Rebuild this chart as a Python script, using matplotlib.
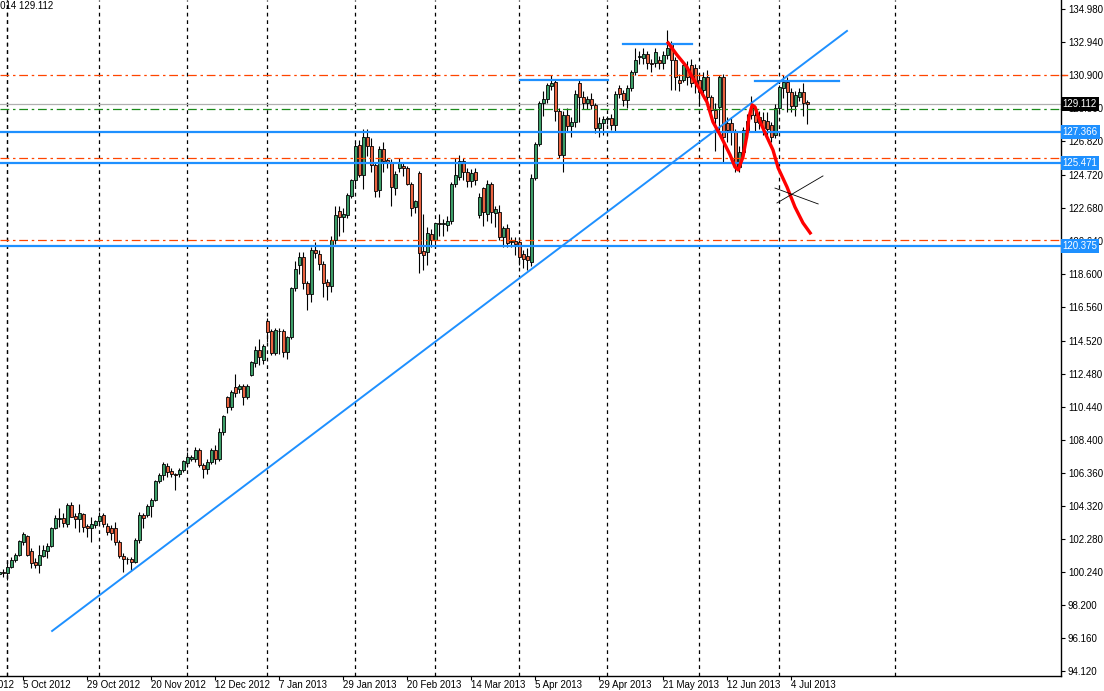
import numpy as np
import pandas as pd
import matplotlib
matplotlib.use("Agg")
import matplotlib.pyplot as plt

plt.rcParams["font.family"] = ["Liberation Sans", "DejaVu Sans"]

# daily candles, first entry is 27 Sep 2012, last is 10 Jul 2013
opens = [
    100.10, 100.22, 100.15, 100.52, 100.97, 101.28, 102.10, 102.45, 101.55, 100.87,
    100.66, 101.24, 101.55, 101.86, 102.93, 103.52, 103.58, 103.17, 104.37, 103.71,
    103.48, 103.81, 103.09, 102.93, 103.13, 103.36, 103.75, 103.07, 102.97, 102.93,
    102.10, 101.24, 101.01, 101.03, 100.83, 102.21, 103.75, 103.75, 104.30, 104.68,
    105.85, 106.22, 106.77, 106.46, 106.28, 106.26, 106.53, 106.94, 107.21, 107.21,
    107.76, 106.84, 106.57, 107.05, 107.75, 107.20, 108.90, 111.05, 110.40, 111.67,
    111.55, 111.71, 111.05, 112.39, 113.15, 113.93, 113.32, 115.70, 115.13, 113.73,
    115.13, 115.11, 113.79, 114.72, 117.74, 119.18, 119.70, 118.09, 117.37, 120.11,
    119.86, 119.24, 118.15, 117.91, 120.73, 122.54, 122.12, 122.27, 123.46, 124.43,
    126.59, 124.74, 127.10, 126.53, 125.35, 123.81, 126.32, 125.66, 125.56, 123.96,
    125.14, 125.31, 125.15, 124.18, 122.78, 124.84, 120.07, 120.00, 121.09, 120.73,
    121.75, 121.72, 121.65, 121.90, 124.18, 124.60, 125.60, 124.94, 124.39, 124.94,
    122.27, 123.91, 122.33, 124.18, 122.41, 122.47, 120.88, 121.45, 120.62, 120.66,
    120.62, 119.85, 119.74, 119.39, 124.53, 126.65, 129.16, 129.41, 130.23, 130.50,
    128.71, 125.97, 128.44, 127.76, 128.03, 130.44, 129.53, 129.16, 129.41, 129.06,
    127.62, 127.93, 128.17, 128.24, 127.82, 130.13, 129.82, 129.37, 130.13, 131.12,
    132.00, 131.98, 132.19, 131.63, 131.63, 131.84, 131.63, 132.15, 132.87, 131.84,
    130.60, 130.60, 131.29, 131.53, 131.32, 130.60, 129.98, 130.81, 129.57, 128.75,
    128.96, 130.81, 127.93, 127.93, 127.41, 125.25, 126.18, 127.51, 128.96, 128.44,
    127.93, 128.13, 128.10, 127.80, 127.20, 128.85, 130.10, 130.50, 129.88, 129.00,
    129.57, 129.88, 129.25,
]
highs = [
    100.35, 100.40, 100.87, 101.18, 101.38, 102.21, 102.72, 102.52, 101.69, 101.08,
    101.90, 101.90, 102.00, 103.03, 103.75, 104.16, 103.85, 104.47, 104.57, 103.85,
    104.43, 103.89, 103.19, 103.65, 103.44, 103.95, 103.85, 103.23, 103.13, 103.34,
    102.21, 101.38, 101.18, 101.14, 102.31, 103.95, 103.85, 104.43, 104.78, 105.91,
    106.32, 107.04, 106.94, 106.63, 106.32, 106.63, 107.15, 107.66, 107.46, 107.97,
    107.87, 106.94, 107.20, 107.90, 108.10, 109.10, 109.95, 111.12, 111.45, 112.45,
    111.85, 111.85, 111.85, 113.24, 114.20, 114.60, 114.30, 115.90, 115.25, 115.30,
    115.30, 115.20, 114.80, 117.80, 119.40, 120.00, 120.00, 118.20, 120.30, 120.60,
    120.10, 119.40, 118.30, 121.00, 122.80, 122.80, 122.70, 123.60, 124.50, 126.70,
    126.90, 127.60, 127.60, 127.00, 125.50, 126.50, 126.80, 125.80, 125.70, 125.00,
    125.80, 125.50, 125.30, 124.30, 123.20, 125.00, 122.30, 121.50, 121.40, 121.80,
    122.30, 122.00, 122.20, 124.30, 125.77, 126.00, 125.80, 125.20, 125.10, 125.20,
    123.60, 124.00, 124.40, 124.30, 122.80, 122.90, 121.60, 121.70, 120.90, 120.90,
    120.90, 120.10, 120.20, 124.80, 126.80, 129.30, 129.90, 130.40, 130.90, 130.60,
    128.90, 128.70, 128.90, 128.30, 130.00, 130.60, 129.90, 129.60, 129.80, 129.20,
    128.30, 128.40, 128.40, 128.50, 129.90, 130.30, 130.00, 130.30, 131.20, 132.60,
    132.40, 132.60, 132.40, 131.90, 132.60, 132.10, 132.40, 133.70, 133.00, 132.00,
    131.00, 131.70, 131.80, 131.90, 131.60, 131.00, 131.10, 131.20, 129.70, 129.20,
    130.90, 131.00, 128.30, 128.30, 127.60, 126.50, 127.70, 128.50, 129.60, 128.80,
    128.70, 128.60, 128.60, 128.00, 129.10, 130.30, 130.90, 130.80, 130.10, 129.90,
    130.10, 130.40, 129.35,
]
lows = [
    99.95, 99.90, 99.74, 100.45, 100.87, 101.24, 101.90, 101.24, 100.46, 100.46,
    100.15, 101.18, 101.08, 101.79, 102.87, 103.03, 103.03, 103.03, 103.61, 102.93,
    102.72, 102.72, 102.41, 102.10, 102.93, 103.23, 103.03, 102.52, 102.21, 101.90,
    101.08, 100.25, 100.73, 100.31, 100.77, 102.00, 102.93, 103.65, 103.65, 104.63,
    105.70, 105.91, 106.12, 106.12, 105.29, 106.12, 106.42, 106.69, 107.10, 107.04,
    106.73, 106.01, 106.30, 106.90, 106.90, 107.10, 108.70, 110.05, 110.20, 111.02,
    111.30, 110.56, 110.90, 112.35, 112.90, 113.00, 113.10, 114.40, 113.60, 113.60,
    113.70, 113.50, 113.40, 114.60, 117.60, 118.60, 117.70, 116.40, 116.90, 119.60,
    118.90, 117.20, 117.00, 117.50, 120.50, 121.00, 121.20, 122.10, 123.30, 124.10,
    124.60, 123.90, 125.90, 124.90, 123.40, 123.40, 124.90, 125.20, 122.80, 123.50,
    124.90, 124.70, 124.10, 122.20, 122.40, 118.70, 118.90, 119.20, 120.30, 120.20,
    121.00, 121.00, 121.30, 121.70, 124.00, 124.40, 124.40, 124.00, 124.00, 124.10,
    122.10, 121.60, 121.90, 121.80, 121.50, 120.70, 120.30, 120.30, 120.30, 119.80,
    119.20, 119.00, 118.90, 119.10, 124.40, 126.50, 128.40, 129.20, 130.00, 128.10,
    125.80, 124.90, 127.40, 127.10, 127.70, 128.00, 128.80, 128.80, 128.80, 127.30,
    127.10, 127.20, 127.90, 127.50, 127.40, 129.50, 129.00, 128.90, 129.90, 130.90,
    131.60, 131.60, 131.30, 131.10, 131.40, 131.30, 131.30, 131.90, 130.00, 130.00,
    129.90, 130.50, 130.30, 130.20, 129.80, 129.00, 129.70, 129.00, 128.30, 126.20,
    127.50, 125.50, 126.80, 126.60, 124.90, 124.90, 126.00, 127.00, 128.20, 127.40,
    127.60, 127.20, 127.10, 126.80, 127.00, 128.50, 129.50, 128.60, 128.60, 128.40,
    129.30, 128.40, 127.90,
]
closes = [
    100.20, 100.18, 100.56, 100.97, 101.28, 102.14, 102.58, 101.28, 100.81, 100.66,
    101.28, 101.59, 101.86, 102.97, 103.58, 103.58, 103.23, 104.37, 103.65, 103.48,
    103.89, 102.99, 102.93, 103.19, 103.36, 103.69, 103.17, 102.68, 102.66, 102.10,
    101.24, 101.03, 101.03, 100.83, 102.21, 103.75, 103.54, 104.30, 104.68, 105.85,
    106.22, 106.90, 106.42, 106.28, 106.24, 106.53, 107.08, 107.31, 107.35, 107.76,
    106.84, 106.57, 107.05, 107.75, 107.20, 108.90, 109.86, 110.40, 111.36, 111.30,
    111.71, 111.01, 111.71, 113.17, 113.93, 113.48, 114.18, 115.07, 113.73, 115.17,
    115.08, 113.79, 114.72, 117.74, 118.92, 119.70, 118.05, 117.37, 120.11, 119.90,
    119.24, 118.09, 117.91, 120.73, 122.27, 122.12, 122.33, 123.50, 124.43, 126.53,
    124.74, 127.10, 126.53, 125.35, 123.75, 126.32, 125.62, 125.50, 123.98, 124.80,
    125.55, 125.15, 124.16, 122.68, 123.13, 119.90, 119.80, 121.14, 120.73, 121.75,
    121.70, 121.75, 121.90, 124.18, 124.74, 125.60, 124.94, 124.39, 124.88, 124.43,
    123.40, 122.47, 124.18, 122.43, 122.62, 120.93, 121.45, 120.52, 120.66, 120.48,
    119.70, 119.55, 119.49, 124.53, 126.65, 129.16, 129.41, 130.29, 130.44, 128.71,
    125.97, 128.44, 127.76, 128.03, 129.74, 129.53, 129.16, 129.41, 129.06, 127.62,
    127.93, 128.17, 128.23, 127.82, 129.72, 129.74, 129.37, 130.13, 131.12, 131.84,
    132.07, 132.19, 131.63, 131.57, 132.35, 131.63, 132.15, 132.56, 131.84, 130.81,
    130.40, 131.53, 130.81, 130.40, 130.50, 129.88, 130.81, 129.57, 128.75, 128.24,
    130.81, 127.10, 127.51, 127.41, 125.25, 126.18, 127.51, 128.07, 128.44, 128.03,
    128.34, 127.62, 127.60, 127.10, 128.85, 130.15, 130.50, 129.88, 129.00, 129.67,
    129.88, 129.16, 129.112,
]

# price axis labels (as printed by the terminal)
price_ticks = [94.12, 96.16, 98.20, 100.24, 102.28, 104.32, 106.36, 108.40, 110.44,
               112.48, 114.52, 116.56, 118.60, 120.64, 122.68, 124.72, 126.82, 128.86,
               130.90, 132.94, 134.98]

# horizontal levels
support_levels = [127.366, 125.471, 120.375]
orange_levels = [130.88, 125.78, 120.70]
green_level = 128.80
last_price = 129.112

# hand-drawn objects, (bar index, price)
trend_start = (11.2, 96.59)
trend_end = (209.9, 133.63)
tops = [((128.2, 130.60), (150.2, 130.60)),
        ((153.9, 132.82), (171.2, 132.82)),
        ((186.9, 130.56), (207.9, 130.56))]
red_x = [165.2, 167.4, 169.9, 171.2, 173.2, 174.9, 176.4, 178.2, 180.7, 181.9, 182.7,
         183.9, 184.9, 185.4, 186.2, 186.9, 188.2, 189.9, 191.4, 192.7, 194.9, 196.9,
         198.9, 200.7]
red_y = [132.89, 132.15, 131.40, 130.79, 129.98, 129.24, 128.01, 127.21, 125.97, 125.23,
         125.05, 125.85, 127.21, 128.32, 129.06, 128.94, 128.01, 127.08, 126.28, 125.17,
         124.00, 122.76, 121.78, 121.16]
cross_a = ((191.9, 123.93), (202.7, 122.95))
cross_b = ((192.4, 123.01), (203.9, 124.68))
future_separators = [222]

# build the trading calendar (terminal skips 25 Dec and 1 Jan)
dates = pd.bdate_range("2012-09-27", "2013-07-10")
dates = dates[~dates.isin(pd.to_datetime(["2012-12-25", "2013-01-01"]))]
xs = np.arange(len(dates)) - 2

fig = plt.figure(figsize=(11.04, 6.91), dpi=100)
ax = fig.add_axes([0, 15 / 691, 1061 / 1104, 676 / 691])
ax.set_xlim(-1.825, 263.4)
ax.set_ylim(93.81, 135.54)

# month separators
month_starts = [x for i, x in enumerate(xs) if i > 0 and dates[i].month != dates[i - 1].month]
month_starts = [xs[2]] + month_starts + future_separators
for x in month_starts:
    ax.axvline(x, color="black", lw=0.9, ls=(0, (3, 3)), zorder=1)

# candles
for x, o, h, l, c in zip(xs, opens, highs, lows, closes):
    ax.vlines(x, l, h, color="black", lw=0.8, zorder=3)
    col = "#3c9e68" if c >= o else "#ea6340"
    ax.bar(x, max(abs(c - o), 0.02), bottom=min(o, c), width=0.62, color=col,
           edgecolor="black", linewidth=0.6, zorder=3.5)

# levels
ax.axhline(last_price, color="#b0b0b0", lw=0.9, zorder=2)
ax.axhline(green_level, color="#1a8a1a", lw=0.9, ls=(0, (7, 3, 2, 3)), zorder=4)
for lvl in orange_levels:
    ax.axhline(lvl, color="#ff4500", lw=0.9, ls=(0, (7, 3, 2, 3)), zorder=4)
for lvl in support_levels:
    ax.axhline(lvl, color="#1e90ff", lw=1.6, zorder=4)

# trend line and tops
ax.plot([trend_start[0], trend_end[0]], [trend_start[1], trend_end[1]],
        color="#1e90ff", lw=1.4, zorder=5)
for (a, b) in tops:
    ax.plot([a[0], b[0]], [a[1], b[1]], color="#1e90ff", lw=1.6, zorder=5)
ax.plot(red_x, red_y, color="red", lw=2.4, solid_joinstyle="round", zorder=6)
for seg in (cross_a, cross_b):
    ax.plot([seg[0][0], seg[1][0]], [seg[0][1], seg[1][1]], color="black", lw=0.6, zorder=6)

# axes look
for side in ("left", "top"):
    ax.spines[side].set_visible(False)
ax.spines["right"].set_linewidth(1.0)
ax.spines["bottom"].set_linewidth(1.0)
ax.yaxis.tick_right()
ax.set_yticks(price_ticks)
ax.set_yticklabels([f"{t:.3f}" for t in price_ticks])
ax.tick_params(axis="y", direction="out", length=3, width=0.8, labelsize=7, pad=2)

label_idx = [i for i in range(len(xs)) if (xs[i] - 4) % 16 == 0]
ax.set_xticks([xs[i] for i in label_idx])
ax.set_xticklabels([f"{dates[i].day} {dates[i].strftime('%b %Y')}" for i in label_idx],
                   ha="left")
ax.tick_params(axis="x", direction="out", length=3, width=0.8, labelsize=7, pad=0)
ax.text(-12, -0.006, "13 Sep 2012", transform=ax.get_xaxis_transform(), fontsize=7,
        ha="left", va="top", clip_on=False)

# coloured marks and price boxes on the price scale
ytr = ax.get_yaxis_transform()
for lvl in orange_levels:
    ax.plot([1.0, 1.006], [lvl, lvl], color="#ff4500", lw=1, transform=ytr, clip_on=False)
ax.plot([1.0, 1.006], [green_level, green_level], color="#1a8a1a", lw=1, transform=ytr,
        clip_on=False)
for lvl in support_levels:
    ax.text(1.0015, lvl, f"{lvl:.3f}", transform=ytr, ha="left", va="center", fontsize=7,
            color="white", zorder=10,
            bbox=dict(boxstyle="square,pad=0.2", fc="#1e90ff", ec="none"))
ax.text(1.0015, last_price, f"{last_price:.3f}", transform=ytr, ha="left", va="center",
        fontsize=7, color="white", zorder=10,
        bbox=dict(boxstyle="square,pad=0.2", fc="black", ec="none"))

fig.text(53 / 1104, 1 - 6 / 691, "EURJPY,Daily  129.060 129.253 129.014 129.112",
         ha="right", va="center", fontsize=7)

fig.savefig("out.png", dpi=100)
